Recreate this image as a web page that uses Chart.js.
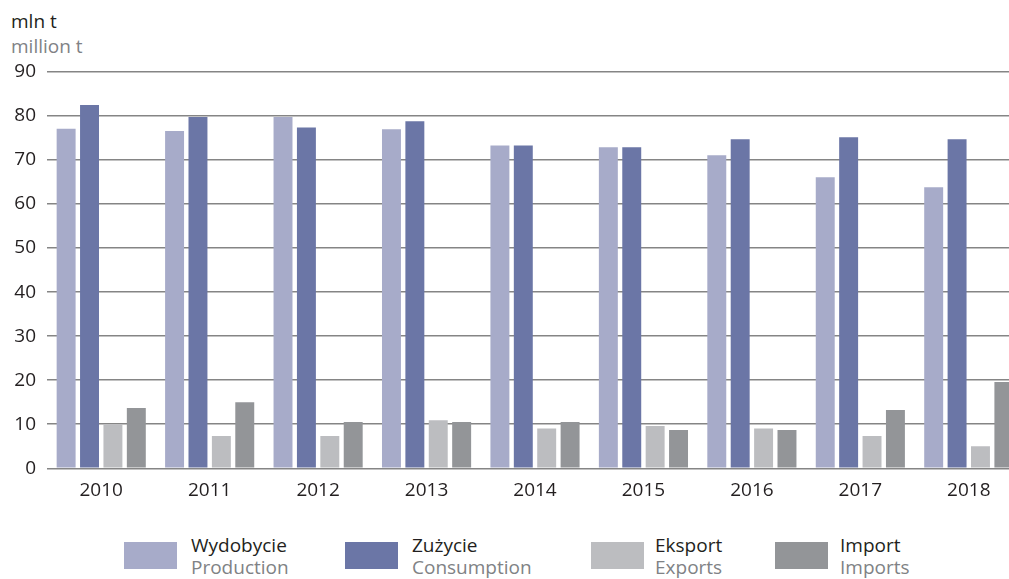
<!DOCTYPE html>
<html>
<head>
<meta charset="utf-8">
<script src="https://cdn.jsdelivr.net/npm/chart.js@4.4.1/dist/chart.umd.min.js"></script>
<style>
  html, body { margin: 0; padding: 0; background: #fff; overflow: hidden; width: 1009px; height: 579px; }
  body { position: relative; font-family: "Open Sans", sans-serif; }
  #wrap { position: absolute; left: 0; top: 0; width: 1030px; height: 505px; }
  .unit { position: absolute; left: 11px; font-size: 19px; line-height: 24px; }
  .pl { color: #231f20; }
  .en { color: #808285; }
  .leg { position: absolute; top: 534px; font-size: 19px; line-height: 22px; }
  .sw { position: absolute; top: 542px; width: 53px; height: 27px; }
</style>
</head>
<body>
<div class="unit pl" style="top:9px">mln t</div>
<div class="unit en" style="top:34px">million t</div>
<div id="wrap"><canvas id="chart"></canvas></div>
<div id="legend"></div>
<script>
// Wydobycie / Zużycie / Eksport / Import, mln t
const lata = ['2010', '2011', '2012', '2013', '2014', '2015', '2016', '2017', '2018'];
const wydobycie = [77.1, 76.6, 79.8, 77.0, 73.3, 72.9, 71.1, 66.1, 63.8];
const zuzycie   = [82.5, 79.8, 77.4, 78.8, 73.3, 72.9, 74.7, 75.2, 74.7];
const eksport   = [10.0, 7.3, 7.3, 10.9, 9.0, 9.6, 9.0, 7.3, 5.0];
const importy   = [13.7, 15.0, 10.5, 10.5, 10.5, 8.7, 8.7, 13.2, 19.6];
const yTicks = [0, 10, 20, 30, 40, 50, 60, 70, 80, 90];

const serie = [
  { pl: 'Wydobycie', en: 'Production',  data: wydobycie, color: '#a7abc9', sw: 124, tx: 191 },
  { pl: 'Zużycie',   en: 'Consumption', data: zuzycie,   color: '#6b76a6', sw: 345, tx: 412 },
  { pl: 'Eksport',   en: 'Exports',     data: eksport,   color: '#bcbdc0', sw: 591, tx: 655 },
  { pl: 'Import',    en: 'Imports',     data: importy,   color: '#939598', sw: 775, tx: 840 }
];

// legenda (dwujęzyczna)
document.getElementById('legend').innerHTML = serie.map(s => `
  <div class="sw" style="left:${s.sw}px;background:${s.color}"></div>
  <div class="leg" style="left:${s.tx}px"><div class="pl">${s.pl}</div><div class="en">${s.en}</div></div>`).join('');

new Chart(document.getElementById('chart'), {
  type: 'bar',
  data: {
    labels: lata,
    datasets: serie.map(s => ({
      label: s.pl,
      data: s.data,
      backgroundColor: s.color,
      borderWidth: 0,
      categoryPercentage: 0.863,
      barPercentage: 0.81
    }))
  },
  options: {
    responsive: true,
    maintainAspectRatio: false,
    animation: false,
    layout: { padding: { top: 72, right: 7, bottom: 0, left: 0 } },
    plugins: { legend: { display: false }, tooltip: { enabled: false } },
    scales: {
      x: {
        grid: { display: false },
        border: { display: false },
        ticks: { color: '#231f20', font: { family: 'Open Sans', size: 19 }, padding: 3 }
      },
      y: {
        min: 0, max: 90,
        afterFit: sc => { sc.width = 47; },
        afterBuildTicks: sc => { sc.ticks = yTicks.map(v => ({ value: v })); },
        grid: { color: '#858585', lineWidth: 1.4, drawTicks: false },
        border: { display: false },
        ticks: { color: '#231f20', font: { family: 'Open Sans', size: 19 }, padding: 11 }
      }
    }
  }
});
</script>
</body>
</html>
